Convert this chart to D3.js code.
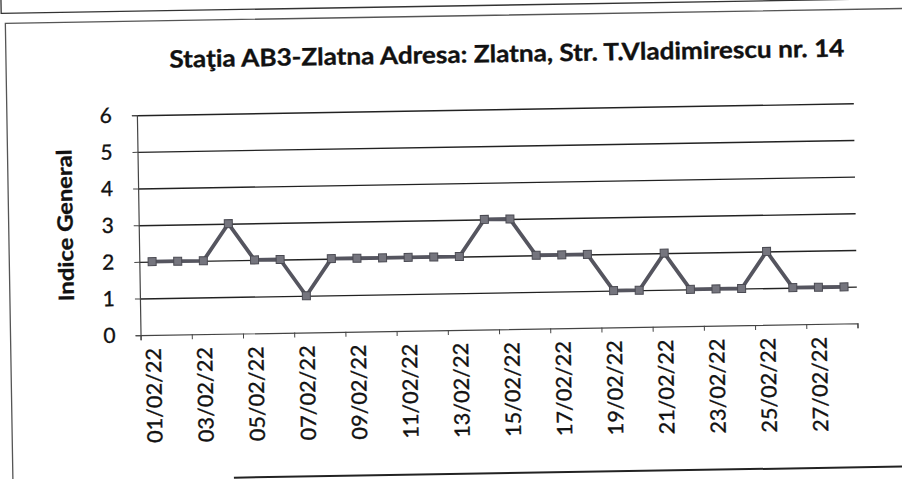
<!DOCTYPE html>
<html>
<head>
<meta charset="utf-8">
<script src="https://cdn.jsdelivr.net/npm/d3@7"></script>
<style>
  body { margin: 0; background: #fff; }
  text { font-family: Lato, "Open Sans", sans-serif; fill: #111; stroke: #111; stroke-width: 0.35px; }
</style>
</head>
<body>
<script>
// chart values
const dates = ["01/02/22","02/02/22","03/02/22","04/02/22","05/02/22","06/02/22","07/02/22",
  "08/02/22","09/02/22","10/02/22","11/02/22","12/02/22","13/02/22","14/02/22",
  "15/02/22","16/02/22","17/02/22","18/02/22","19/02/22","20/02/22","21/02/22",
  "22/02/22","23/02/22","24/02/22","25/02/22","26/02/22","27/02/22","28/02/22"];
const values = [2,2,2,3,2,2,1,2,2,2,2,2,2,3,3,2,2,2,1,1,2,1,1,1,2,1,1,1];
const yTicks = [0,1,2,3,4,5,6];
const title = "Staţia AB3-Zlatna Adresa: Zlatna, Str. T.Vladimirescu nr. 14";
const yTitle = "Indice General";

const w = 902;
const h = 479;
const plotL = 139, plotR = 856, plotT = 110, plotB = 330;

const svg = d3.select("body")
  .append("svg")
  .attr("width", w)
  .attr("height", h);

// the scan is a little tilted, so the whole page is turned slightly
const page = svg.append("g")
  .attr("transform", "rotate(-0.95," + w/2 + ",240)");

// box of the chart above (only its bottom shows) and the chart's own box
page.append("path")
  .attr("d", "M5,-20 V6 H940")
  .attr("fill", "none").attr("stroke", "#333").attr("stroke-width", 1.3);
page.append("path")
  .attr("d", "M9,484 V16 H940")
  .attr("fill", "none").attr("stroke", "#555").attr("stroke-width", 1.3);
page.append("line")
  .attr("x1", 230).attr("x2", 940).attr("y1", 474).attr("y2", 474)
  .attr("stroke", "#222").attr("stroke-width", 2);

const x = d3.scaleBand()
  .domain(dates)
  .range([plotL, plotR]);

const xEdge = d3.scaleLinear()
  .domain([0, dates.length])
  .range([plotL, plotR]);

const y = d3.scaleLinear()
  .domain([0, 6])
  .range([plotB, plotT]);

// gridlines
page.append("g")
  .attr("transform", "translate(" + plotL + ",0)")
  .call(d3.axisLeft(y).tickValues(yTicks.slice(1)).tickSize(-(plotR - plotL)).tickFormat(""))
  .call(g => g.select(".domain").remove())
  .call(g => g.selectAll("line").attr("stroke", "#222").attr("stroke-width", 1.4));

// y axis
const yAxis = page.append("g")
  .attr("transform", "translate(" + plotL + ",0)")
  .call(d3.axisLeft(y).tickValues(yTicks).tickFormat(d3.format("d")).tickSize(5).tickPadding(20));
yAxis.select(".domain").attr("stroke", "#444").attr("stroke-width", 1.2);
yAxis.selectAll("line").attr("stroke", "#444");
yAxis.selectAll("text").attr("font-size", "21px").attr("fill", "#111");

// x axis tick marks, every two days
const xTicks = page.append("g")
  .attr("transform", "translate(0," + plotB + ")")
  .call(d3.axisBottom(xEdge).tickValues(d3.range(0, dates.length + 1, 2)).tickSize(5).tickFormat(""));
xTicks.select(".domain").attr("stroke", "#444").attr("stroke-width", 1.2);
xTicks.selectAll("line").attr("stroke", "#444");

// x labels
const xLabels = page.append("g")
  .attr("transform", "translate(0," + plotB + ")")
  .call(d3.axisBottom(x).tickValues(dates.filter((d, i) => i % 2 === 0)).tickSize(0));
xLabels.select(".domain").remove();
xLabels.selectAll("text")
  .attr("font-size", "21px")
  .attr("fill", "#111")
  .attr("text-anchor", "end")
  .attr("dy", "0.35em")
  .attr("x", -13)
  .attr("y", 0)
  .attr("textLength", 95)
  .attr("lengthAdjust", "spacingAndGlyphs")
  .attr("transform", "rotate(-90)");

// line and markers
const line = d3.line()
  .x((d, i) => x(dates[i]) + x.bandwidth() / 2)
  .y(d => y(d));

page.append("path")
  .datum(values)
  .attr("d", line)
  .attr("fill", "none")
  .attr("stroke", "#55555f")
  .attr("stroke-width", 3.8)
  .attr("stroke-linejoin", "round");

page.selectAll("rect.pt")
  .data(values)
  .enter()
  .append("rect")
  .attr("class", "pt")
  .attr("x", (d, i) => x(dates[i]) + x.bandwidth() / 2 - 4)
  .attr("y", d => y(d) - 4)
  .attr("width", 8)
  .attr("height", 8)
  .attr("fill", "#75757e")
  .attr("stroke", "#4a4a52")
  .attr("stroke-width", 1);

// titles
page.append("text")
  .text(title)
  .attr("x", 510)
  .attr("y", 63)
  .attr("text-anchor", "middle")
  .attr("font-size", "24px")
  .attr("font-weight", "bold")
  .attr("stroke-width", 0.6)
  .attr("textLength", 675)
  .attr("lengthAdjust", "spacingAndGlyphs");

page.append("text")
  .text(yTitle)
  .attr("transform", "translate(73,219) rotate(-90)")
  .attr("text-anchor", "middle")
  .attr("font-size", "21px")
  .attr("font-weight", "bold")
  .attr("stroke-width", 0.5)
  .attr("textLength", 152)
  .attr("lengthAdjust", "spacingAndGlyphs");
</script>
</body>
</html>
